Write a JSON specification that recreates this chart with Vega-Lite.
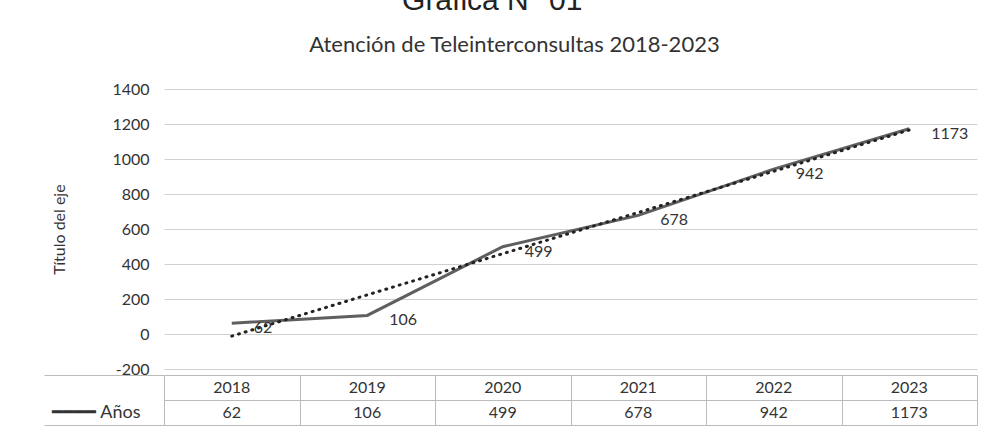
{
  "$schema": "https://vega.github.io/schema/vega-lite/v6.json",
  "padding": {"left": 43, "top": -14, "right": 5, "bottom": 5},
  "background": "white",
  "title": {"text": "Gráfica N° 01", "fontSize": 30, "font": "Liberation Sans", "fontWeight": "normal", "color": "#222", "anchor": "middle", "frame": "bounds", "dx": -18, "offset": 18},
  "datasets": {
    "d": [
      {"year": 2018, "value": 62},
      {"year": 2019, "value": 106},
      {"year": 2020, "value": 499},
      {"year": 2021, "value": 678},
      {"year": 2022, "value": 942},
      {"year": 2023, "value": 1173}
    ]
  },
  "config": {"font": "Lato", "view": {"stroke": null}},
  "spacing": 6,
  "bounds": "flush",
  "vconcat": [
    {
      "width": 813,
      "height": 280,
      "title": {"text": "Atención de Teleinterconsultas 2018-2023", "fontSize": 22, "fontWeight": "normal", "font": "Lato", "color": "#333", "anchor": "middle", "frame": "bounds", "offset": 24},
      "data": {"name": "d"},
      "encoding": {
        "x": {"field": "year", "type": "quantitative", "scale": {"domain": [2017.5, 2023.5]}, "axis": null},
        "y": {"field": "value", "type": "quantitative", "scale": {"domain": [-200, 1400], "nice": false},
          "axis": {"values": [-200, 0, 200, 400, 600, 800, 1000, 1200, 1400], "labelExpr": "datum.value < 0 ? '-' + abs(datum.value) : '' + datum.value", "domain": false, "ticks": false, "gridColor": "#d0d0d0", "labelFontSize": 16, "labelColor": "#333", "labelPadding": 15, "title": "Título del eje", "titleFontSize": 16, "titleFontWeight": "normal", "titleColor": "#333", "titlePadding": 44}}
      },
      "layer": [
        {"mark": {"type": "line", "color": "#5f5f5f", "strokeWidth": 3}},
        {"transform": [{"regression": "value", "on": "year"}], "mark": {"type": "line", "color": "#222", "strokeWidth": 3, "strokeDash": [1, 6], "strokeCap": "round"}},
        {"mark": {"type": "text", "align": "left", "dx": 22, "dy": 5, "fontSize": 16, "color": "#333"}, "encoding": {"text": {"field": "value", "type": "quantitative"}}}
      ]
    },
    {
      "width": 813,
      "height": 50,
      "data": {"name": "d"},
      "transform": [{"fold": ["year", "value"], "as": ["row", "cell"]}],
      "mark": {"type": "text", "fontSize": 16, "color": "#333"},
      "encoding": {
        "x": {"field": "year", "type": "quantitative", "scale": {"domain": [2017.5, 2023.5]},
          "axis": {"values": [2017.5, 2018.5, 2019.5, 2020.5, 2021.5, 2022.5, 2023.5], "labels": false, "ticks": false, "domain": false, "grid": true, "gridColor": "#bbbbbb", "title": null}},
        "y": {"field": "row", "type": "nominal", "sort": ["year", "value"], "scale": {"type": "band", "paddingInner": 0, "paddingOuter": 0},
          "axis": {"labelExpr": "datum.value == 'value' ? '━━━━ Años' : ''", "domain": false, "ticks": true, "tickSize": 120, "tickColor": {"condition": {"test": "datum.value == 'year'", "value": "transparent"}, "value": "#bbbbbb"}, "tickBand": "extent", "grid": true, "gridColor": "#bbbbbb", "labelPadding": -96, "labelFontSize": 18, "labelColor": "#333", "title": null}},
        "text": {"field": "cell", "type": "quantitative"}
      }
    }
  ]
}
